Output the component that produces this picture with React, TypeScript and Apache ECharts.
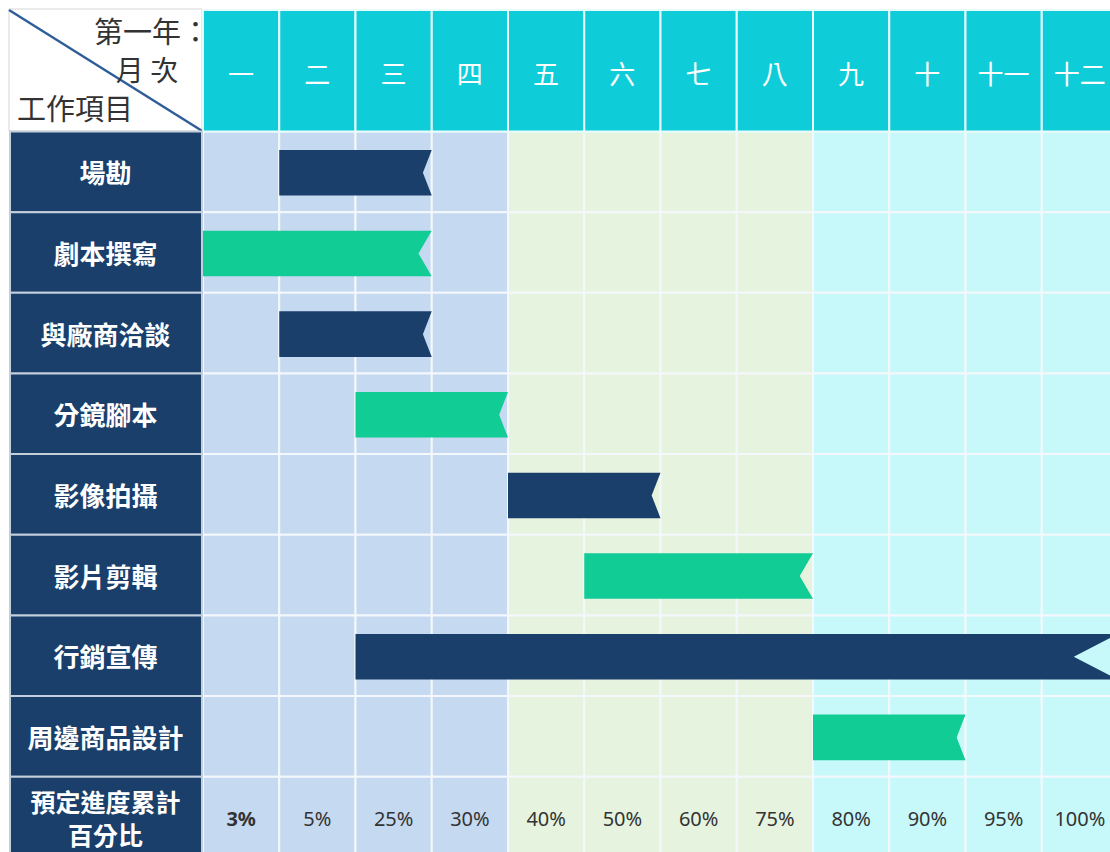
import React, { useEffect, useRef } from "react";
import * as echarts from "echarts";

const months = ["一", "二", "三", "四", "五", "六", "七", "八", "九", "十", "十一", "十二"];
const monthZone = [0, 0, 0, 0, 1, 1, 1, 1, 2, 2, 2, 2];
const tasks = ["場勘", "劇本撰寫", "與廠商洽談", "分鏡腳本", "影像拍攝", "影片剪輯", "行銷宣傳", "周邊商品設計"];
const taskStart = [1, 0, 1, 2, 4, 5, 2, 8];
const taskEnd = [3, 3, 3, 4, 6, 8, 12, 10];
const taskColor = [0, 1, 0, 1, 0, 1, 0, 1];
const progress = ["3%", "5%", "25%", "30%", "40%", "50%", "60%", "75%", "80%", "90%", "95%", "100%"];
const progressTitle = ["預定進度累計", "百分比"];
const cornerTexts = ["第一年：", "月 次", "工作項目"];

const ZONE_COLORS = ["#c5d9f1", "#e6f3df", "#c8f9fa"];
const BAR_COLORS = ["#1a3f6b", "#12cc96"];
const HEADER_COLOR = "#0fcdd8";
const NAVY = "#1a3f6b";
const CJK = "'Noto Sans CJK TC', 'Noto Sans', sans-serif";

const HEADER_H = 121.5;
const LEFT_W = 193;
const ROW_H = 80.65;

export default function App() {
  const ref = useRef<HTMLDivElement>(null);

  useEffect(() => {
    if (!ref.current) return;
    const chart = echarts.init(ref.current, null, { renderer: "svg" });
    const rowCount = tasks.length + 1;

    const cellData: number[][] = [];
    for (let r = 0; r < rowCount; r++) {
      for (let m = 0; m < months.length; m++) cellData.push([m, r, monthZone[m]]);
    }

    const labelStyle = (text: string, x: number, y: number, size: number) => ({
      type: "text",
      style: {
        text,
        x,
        y,
        align: "center",
        verticalAlign: "middle",
        fill: "#ffffff",
        fontSize: size,
        fontWeight: "bold",
        fontFamily: CJK,
      },
    });

    const option: any = {
      animation: false,
      grid: { left: 203, top: 131.5, width: 915, height: rowCount * ROW_H },
      xAxis: { type: "value", min: 0, max: 12, show: false },
      yAxis: { type: "value", min: 0, max: rowCount, inverse: true, show: false },
      series: [
        {
          type: "custom",
          name: "cells",
          data: cellData,
          renderItem: (params: any, api: any) => {
            const m = api.value(0), r = api.value(1), z = api.value(2);
            const p0 = api.coord([m, r]);
            const p1 = api.coord([m + 1, r + 1]);
            return {
              type: "rect",
              shape: { x: p0[0], y: p0[1], width: p1[0] - p0[0], height: p1[1] - p0[1] },
              style: { fill: ZONE_COLORS[z], stroke: "#f4f8fc", lineWidth: 2 },
            };
          },
        },
        {
          type: "custom",
          name: "header",
          data: months.map((_, i) => [i]),
          renderItem: (params: any, api: any) => {
            const m = api.value(0);
            const cs = params.coordSys;
            const p0 = api.coord([m, 0]);
            const p1 = api.coord([m + 1, 0]);
            const top = cs.y - HEADER_H;
            return {
              type: "group",
              children: [
                {
                  type: "rect",
                  shape: { x: p0[0], y: top, width: p1[0] - p0[0], height: HEADER_H },
                  style: { fill: HEADER_COLOR, stroke: "#e8fbfc", lineWidth: 2 },
                },
                {
                  type: "text",
                  style: {
                    text: months[params.dataIndex],
                    x: (p0[0] + p1[0]) / 2,
                    y: top + HEADER_H / 2 + 2,
                    align: "center",
                    verticalAlign: "middle",
                    fill: "#ffffff",
                    fontSize: 26,
                    fontFamily: CJK,
                  },
                },
              ],
            };
          },
        },
        {
          type: "custom",
          name: "left",
          data: [...tasks, progressTitle.join("")].map((_, i) => [i]),
          renderItem: (params: any, api: any) => {
            const r = api.value(0);
            const cs = params.coordSys;
            const p0 = api.coord([0, r]);
            const p1 = api.coord([0, r + 1]);
            const cx = cs.x - LEFT_W / 2 - 1;
            const cy = (p0[1] + p1[1]) / 2;
            const children: any[] = [
              {
                type: "rect",
                shape: { x: cs.x - LEFT_W, y: p0[1], width: LEFT_W - 1, height: p1[1] - p0[1] },
                style: { fill: NAVY, stroke: "#c4cfdc", lineWidth: 2 },
              },
            ];
            if (r < tasks.length) {
              children.push(labelStyle(tasks[r], cx, cy, 26));
            } else {
              children.push(labelStyle(progressTitle[0], cx, cy - 16, 25));
              children.push(labelStyle(progressTitle[1], cx, cy + 17, 25));
            }
            return { type: "group", children };
          },
        },
        {
          type: "custom",
          name: "bars",
          data: tasks.map((_, i) => [taskStart[i], taskEnd[i], i, taskColor[i]]),
          renderItem: (params: any, api: any) => {
            const s = api.value(0), e = api.value(1), r = api.value(2), c = api.value(3);
            const pc = api.coord([s, r + 0.5]);
            const pe = api.coord([e, r + 0.5]);
            const h = api.size([0, 1])[1] * 0.565;
            const x0 = pc[0], x1 = pe[0], yc = pc[1] + 1;
            const d = (x1 - x0) * 0.058;
            return {
              type: "polygon",
              shape: {
                points: [
                  [x0, yc - h / 2],
                  [x1, yc - h / 2],
                  [x1 - d, yc],
                  [x1, yc + h / 2],
                  [x0, yc + h / 2],
                ],
              },
              style: { fill: BAR_COLORS[c] },
            };
          },
        },
        {
          type: "custom",
          name: "progress",
          data: progress.map((_, i) => [i]),
          renderItem: (params: any, api: any) => {
            const m = api.value(0);
            const p = api.coord([m + 0.5, tasks.length + 0.5]);
            return {
              type: "text",
              style: {
                text: progress[params.dataIndex],
                x: p[0],
                y: p[1] + 1,
                align: "center",
                verticalAlign: "middle",
                fill: "#333333",
                fontSize: 20,
                fontWeight: params.dataIndex === 0 ? "bold" : "normal",
                fontFamily: "'Noto Sans', 'Open Sans', sans-serif",
              },
            };
          },
        },
      ],
      graphic: [
        {
          type: "group",
          z: 10,
          children: [
            {
              type: "rect",
              shape: { x: 9, y: 9, width: 193, height: 122 },
              style: { fill: "#ffffff", stroke: "#d6d6d6", lineWidth: 1 },
            },
            {
              type: "line",
              shape: { x1: 9, y1: 10, x2: 203, y2: 131.5 },
              style: { stroke: "#2f5d98", lineWidth: 2.5 },
            },
            {
              type: "text",
              style: {
                text: cornerTexts[0],
                x: 210,
                y: 30,
                align: "right",
                verticalAlign: "middle",
                fill: "#333333",
                fontSize: 29,
                fontFamily: CJK,
              },
            },
            {
              type: "text",
              style: {
                text: cornerTexts[1],
                x: 147,
                y: 69,
                align: "center",
                verticalAlign: "middle",
                fill: "#333333",
                fontSize: 28,
                fontFamily: CJK,
              },
            },
            {
              type: "text",
              style: {
                text: cornerTexts[2],
                x: 17,
                y: 107,
                align: "left",
                verticalAlign: "middle",
                fill: "#333333",
                fontSize: 29,
                fontFamily: CJK,
              },
            },
          ],
        },
      ],
    };

    chart.setOption(option);
    return () => chart.dispose();
  }, []);

  return (
    <div style={{ position: "fixed", left: 0, top: 0, width: 1110, height: 852, overflow: "hidden", background: "#ffffff" }}>
      <div ref={ref} style={{ position: "absolute", left: 0, top: 0, width: 1130, height: 870 }} />
    </div>
  );
}
